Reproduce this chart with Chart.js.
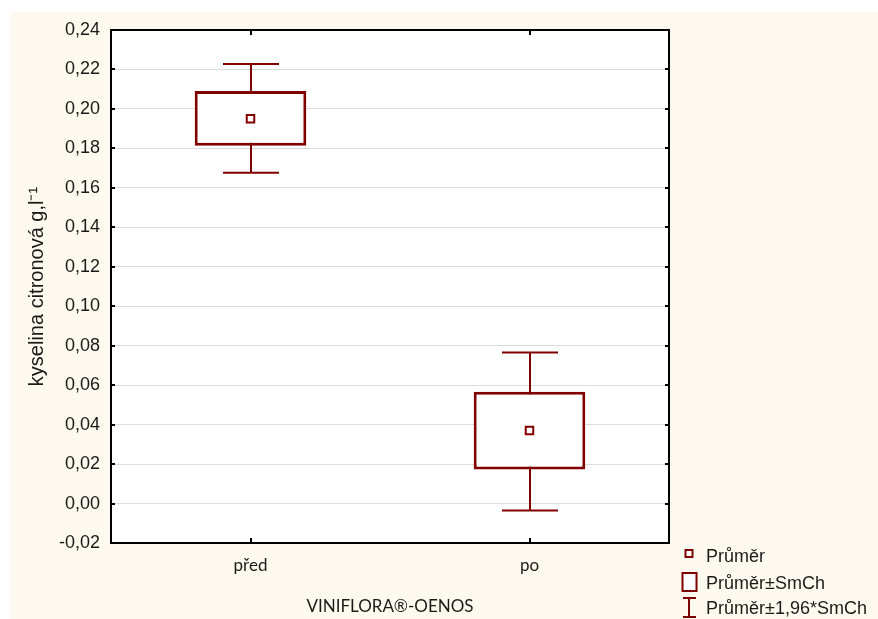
<!DOCTYPE html>
<html>
<head>
<meta charset="utf-8">
<script src="https://cdn.jsdelivr.net/npm/chart.js@4"></script>
<style>
    html, body { margin: 0; padding: 0; background: #ffffff; }
    #wrap { position: relative; width: 878px; height: 619px; }
</style>
</head>
<body>
<div id="wrap"><canvas id="chart" width="878" height="619"></canvas></div>
<script>
"use strict";

// Data
var categories = ["před", "po"];
var meanValues = [0.195, 0.037];
var seLow = [0.1813, 0.0172];
var seHigh = [0.2091, 0.0567];
var ciLow = [0.1676, -0.0035];
var ciHigh = [0.2228, 0.0765];

var legendLabels = ["Průměr", "Průměr±SmCh", "Průměr±1,96*SmCh"];

var darkRed = "#800000";
var cream = "#fdf9ee";
var textColor = "#1a1a1a";

// Background, border, inner ticks, whiskers and legend
var boxPlotPlugin = {
    id: "boxPlotPlugin",
    beforeDraw: function(chart) {
        var ctx = chart.ctx;
        var area = chart.chartArea;
        ctx.save();
        ctx.fillStyle = "#ffffff";
        ctx.fillRect(0, 0, chart.width, chart.height);
        ctx.fillStyle = cream;
        ctx.fillRect(10, 12, chart.width - 10, chart.height - 12);
        ctx.fillStyle = "#ffffff";
        ctx.fillRect(area.left, area.top, area.right - area.left, area.bottom - area.top);
        ctx.restore();
    },
    beforeDatasetsDraw: function(chart) {
        var ctx = chart.ctx;
        var x = chart.scales.x;
        var y = chart.scales.y;
        ctx.save();
        ctx.strokeStyle = darkRed;
        ctx.lineWidth = 2;
        for (let i = 0; i < categories.length; i++) {
            var cx = Math.round(x.getPixelForValue(i));
            var top = y.getPixelForValue(ciHigh[i]);
            var bottom = y.getPixelForValue(ciLow[i]);
            ctx.beginPath();
            ctx.moveTo(cx, top);
            ctx.lineTo(cx, bottom);
            ctx.moveTo(cx - 28, top);
            ctx.lineTo(cx + 28, top);
            ctx.moveTo(cx - 28, bottom);
            ctx.lineTo(cx + 28, bottom);
            ctx.stroke();
        }
        ctx.restore();
    },
    afterDraw: function(chart) {
        var ctx = chart.ctx;
        var area = chart.chartArea;
        var x = chart.scales.x;
        var y = chart.scales.y;
        ctx.save();

        // Frame
        ctx.strokeStyle = "#000000";
        ctx.lineWidth = 2;
        ctx.strokeRect(area.left, area.top, area.right - area.left, area.bottom - area.top);

        // Inner tick marks
        ctx.beginPath();
        for (let i = 0; i < y.ticks.length; i++) {
            var ty = Math.round(y.getPixelForTick(i));
            ctx.moveTo(area.left, ty);
            ctx.lineTo(area.left + 4, ty);
            ctx.moveTo(area.right, ty);
            ctx.lineTo(area.right - 4, ty);
        }
        for (let i = 0; i < categories.length; i++) {
            var tx = Math.round(x.getPixelForValue(i));
            ctx.moveTo(tx, area.top);
            ctx.lineTo(tx, area.top + 5);
            ctx.moveTo(tx, area.bottom);
            ctx.lineTo(tx, area.bottom - 5);
        }
        ctx.stroke();

        // Legend
        var lx = 689;
        ctx.strokeStyle = darkRed;
        ctx.fillStyle = "#ffffff";
        ctx.lineWidth = 2;
        ctx.fillRect(lx - 3.5, 550, 7, 7);
        ctx.strokeRect(lx - 3.5, 550, 7, 7);

        ctx.fillRect(lx - 6.5, 573, 14, 18);
        ctx.strokeRect(lx - 6.5, 573, 14, 18);

        ctx.beginPath();
        ctx.moveTo(lx, 598);
        ctx.lineTo(lx, 617);
        ctx.moveTo(lx - 6, 598);
        ctx.lineTo(lx + 7, 598);
        ctx.moveTo(lx - 6, 617);
        ctx.lineTo(lx + 7, 617);
        ctx.stroke();

        ctx.fillStyle = textColor;
        ctx.font = "18px 'Liberation Sans', Arial, sans-serif";
        ctx.textBaseline = "alphabetic";
        ctx.textAlign = "left";
        ctx.fillText(legendLabels[0], 706, 562);
        ctx.fillText(legendLabels[1], 706, 589);
        ctx.fillText(legendLabels[2], 706, 614);

        ctx.restore();
    }
};

Chart.defaults.font.family = "'Liberation Sans', Arial, sans-serif";
Chart.defaults.font.size = 18;
Chart.defaults.color = textColor;

var ctx = document.getElementById("chart").getContext("2d");

var boxData = [];
for (let i = 0; i < categories.length; i++) {
    boxData.push([seLow[i], seHigh[i]]);
}

var chart = new Chart(ctx, {
    type: "bar",
    data: {
        labels: categories,
        datasets: [
            {
                type: "line",
                label: legendLabels[0],
                data: meanValues,
                showLine: false,
                pointStyle: "rect",
                pointRadius: 5.3,
                pointBorderWidth: 2,
                pointBackgroundColor: "#ffffff",
                pointBorderColor: darkRed,
                order: 0
            },
            {
                label: legendLabels[1],
                data: boxData,
                backgroundColor: "#ffffff",
                borderColor: darkRed,
                borderWidth: 3,
                borderSkipped: false,
                barPercentage: 0.4,
                categoryPercentage: 1.0,
                order: 1
            }
        ]
    },
    options: {
        responsive: false,
        animation: false,
        layout: {
            padding: { left: 0, top: 30, right: 209, bottom: 0 }
        },
        plugins: {
            legend: { display: false },
            tooltip: { enabled: false }
        },
        scales: {
            x: {
                grid: { display: false, drawTicks: false },
                border: { display: false },
                ticks: { padding: 12, color: textColor, font: { family: "Lato, sans-serif", size: 17 } },
                title: {
                    display: true,
                    text: "VINIFLORA®-OENOS",
                    color: textColor,
                    font: { family: "Lato, sans-serif", size: 17 },
                    padding: { top: 0, bottom: 2 }
                },
                afterFit: function(scale) { scale.height = 76; }
            },
            y: {
                min: -0.02,
                max: 0.24,
                grid: { color: "#dcdcdc", lineWidth: 1, drawTicks: false },
                border: { display: false },
                ticks: {
                    stepSize: 0.02,
                    padding: 11,
                    color: textColor,
                    font: { size: 18 },
                    callback: function(value) {
                        return value.toFixed(2).replace(".", ",");
                    }
                },
                title: {
                    display: true,
                    text: "kyselina citronová g,l⁻¹",
                    color: textColor,
                    font: { size: 20 },
                    padding: { top: 25, bottom: 0 }
                },
                afterFit: function(scale) { scale.width = 111; }
            }
        }
    },
    plugins: [boxPlotPlugin]
});
</script>
</body>
</html>
